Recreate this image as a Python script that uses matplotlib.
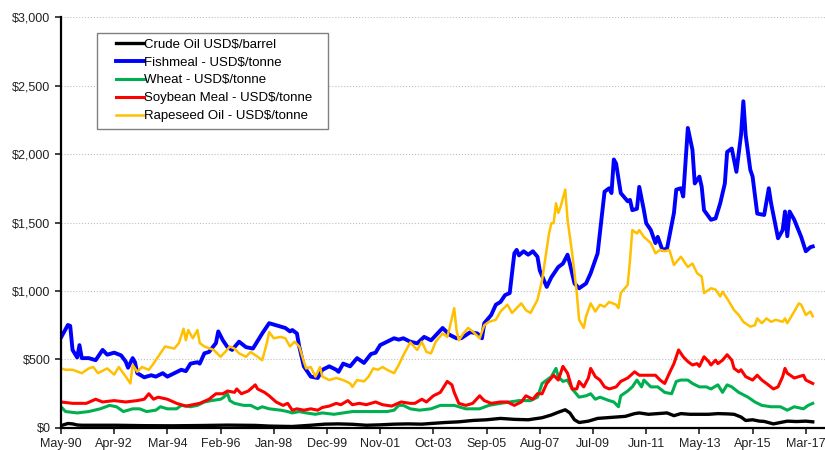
import matplotlib
matplotlib.use("Agg")
import matplotlib.pyplot as plt
from matplotlib.patches import Rectangle
from matplotlib.ticker import FuncFormatter, MultipleLocator

plt.rcParams['font.family'] = ['Liberation Sans', 'DejaVu Sans']

# months counted from May-1990
crude_m = [0, 3, 5, 7, 9, 12, 24, 36, 48, 60, 72, 84, 90, 96, 100, 108, 114, 120, 126, 132,
           138, 144, 150, 156, 160, 166, 172, 178, 184, 190, 196, 202, 208, 212, 215, 218, 220,
           222, 224, 228, 232, 236, 240, 244, 248, 250, 254, 258, 262, 265, 268, 272, 276, 280,
           284, 288, 291, 294, 296, 299, 302, 304, 308, 311, 314, 318, 322, 325]
crude_v = [17, 33, 30, 22, 20, 20, 20, 17, 16, 18, 21, 19, 14, 12, 11, 20, 28, 30, 27, 20,
           23, 28, 30, 28, 33, 40, 45, 55, 60, 70, 63, 60, 75, 95, 115, 133, 110,
           60, 40, 50, 70, 75, 80, 85, 105, 110, 100, 105, 110, 90, 105, 100, 100, 100,
           105, 103, 100, 80, 55, 60, 50, 48, 30, 40, 50, 47, 50, 45]

fish_m = [0, 3, 4, 5, 7, 8, 9, 12, 15, 18, 20, 23, 26, 28, 29, 31, 32, 33, 36, 39, 41, 44, 46,
          49, 52, 54, 56, 59, 60, 62, 64, 67, 68, 70, 72, 74, 77, 80, 83, 87, 90, 93, 97, 99,
          100, 102, 103, 105, 108, 111, 113, 116, 119, 120, 122, 125, 128, 131, 134, 136, 138,
          141, 144, 146, 148, 151, 154, 157, 160, 165, 168, 171, 173, 177, 180, 182, 183, 186,
          188, 190, 192, 194, 196, 197, 198, 200, 202, 204, 206, 207, 210, 212, 215, 217, 219,
          220, 222, 224, 227, 229, 232, 235, 237, 238, 239, 240, 242, 245, 246, 247, 249, 250,
          252, 253, 255, 257, 258, 260, 262, 265, 266, 268, 269, 271, 273, 274, 276, 277, 278,
          281, 283, 285, 287, 288, 290, 292, 294, 295, 296, 298, 299, 301, 304, 306, 307, 310,
          312, 313, 314, 315, 317, 320, 322, 324, 325]
fish_v = [660, 752, 745, 570, 515, 605, 510, 510, 495, 570, 535, 550, 530, 485, 440, 510, 480,
          400, 370, 385, 375, 400, 375, 400, 425, 415, 470, 480, 470, 545, 555, 620, 705, 640,
          590, 570, 630, 590, 580, 690, 765, 750, 730, 705, 715, 690, 595, 450, 375, 365, 425,
          450, 425, 410, 470, 450, 510, 475, 540, 550, 605, 630, 655, 645, 655, 630, 618, 665,
          640, 730, 680, 655, 655, 700, 690, 655, 765, 825, 900, 920, 970, 985, 1275, 1300,
          1260, 1290, 1265, 1290, 1250, 1150, 1030, 1100, 1175, 1200, 1265, 1200, 1055, 1020,
          1055, 1130, 1275, 1725, 1750, 1715, 1960, 1930, 1715, 1655, 1665, 1590, 1600, 1760,
          1590, 1495, 1445, 1350, 1395, 1300, 1310, 1570, 1740, 1750, 1690, 2190, 2030, 1785,
          1835, 1760, 1590, 1520, 1530, 1640, 1785, 2015, 2040, 1870, 2140, 2385, 2140, 1885,
          1835, 1565, 1555, 1750, 1640, 1385, 1445, 1580, 1400, 1580, 1520, 1395, 1290, 1320,
          1325]

wheat_m = [0, 2, 7, 12, 17, 21, 24, 27, 31, 34, 37, 41, 43, 46, 50, 52, 56, 59, 62, 65, 69, 70,
           72, 73, 75, 79, 82, 85, 87, 90, 95, 98, 100, 103, 106, 110, 113, 118, 122, 126, 132,
           137, 141, 144, 146, 148, 151, 155, 160, 164, 170, 175, 181, 185, 190, 194, 198, 203,
           206, 208, 210, 212, 214, 215, 217, 219, 221, 224, 227, 229, 231, 233, 237, 239, 241,
           242, 245, 247, 249, 251, 252, 255, 258, 261, 264, 266, 268, 271, 273, 276, 279, 281,
           284, 286, 288, 290, 293, 297, 300, 303, 307, 311, 314, 317, 321, 323, 325]
wheat_v = [155, 120, 110, 120, 140, 165, 155, 120, 140, 140, 120, 130, 155, 140, 140, 165, 155,
           165, 190, 200, 210, 220, 250, 200, 180, 165, 165, 140, 155, 140, 130, 120, 110, 120,
           110, 100, 110, 100, 110, 120, 120, 120, 120, 130, 165, 165, 140, 130, 140, 165, 165,
           140, 140, 165, 180, 190, 200, 200, 225, 325, 350, 375, 435, 375, 340, 350, 285, 225,
           235, 250, 210, 225, 200, 190, 155, 235, 270, 300, 350, 300, 350, 300, 300, 260, 250,
           340, 350, 350, 325, 300, 300, 285, 315, 260, 315, 300, 260, 225, 190, 165, 155, 155,
           130, 155, 140, 165, 180]

soy_m = [0, 5, 11, 15, 18, 23, 28, 33, 36, 38, 40, 42, 46, 50, 54, 60, 64, 67, 70, 72, 75, 76,
         78, 81, 84, 85, 88, 90, 93, 96, 98, 100, 102, 105, 108, 111, 113, 116, 119, 121, 124,
         126, 129, 132, 136, 139, 143, 147, 151, 153, 156, 158, 161, 164, 167, 169, 170, 172,
         175, 178, 181, 183, 186, 190, 193, 196, 199, 201, 204, 206, 208, 210, 213, 215, 217,
         219, 221, 223, 224, 226, 228, 229, 231, 233, 235, 237, 240, 242, 245, 248, 250, 254,
         257, 259, 261, 263, 265, 267, 269, 271, 273, 275, 276, 278, 280, 281, 283, 284, 286,
         288, 290, 291, 293, 294, 296, 299, 301, 303, 305, 308, 310, 312, 313, 314, 317, 319,
         321, 322, 325]
soy_v = [190, 180, 180, 210, 190, 200, 190, 200, 210, 250, 210, 225, 210, 180, 160, 180, 210,
         250, 250, 270, 260, 285, 250, 270, 315, 285, 260, 235, 190, 165, 180, 130, 140, 130,
         140, 130, 150, 160, 180, 170, 200, 170, 180, 170, 190, 170, 160, 190, 180, 180, 210,
         190, 235, 260, 340, 315, 260, 180, 165, 180, 235, 200, 180, 190, 190, 165, 190, 235,
         210, 250, 250, 325, 385, 350, 450, 400, 285, 285, 340, 300, 365, 435, 375, 350, 300,
         285, 300, 340, 365, 410, 385, 385, 385, 350, 325, 400, 470, 570, 520, 485, 460, 470,
         450, 520, 485, 460, 495, 470, 495, 535, 495, 435, 410, 425, 375, 350, 385, 350, 325,
         285, 300, 375, 435, 400, 365, 375, 385, 350, 325]

rape_m = [0, 2, 5, 9, 12, 14, 16, 20, 23, 25, 28, 30, 31, 33, 35, 38, 40, 43, 45, 49, 51, 53, 54,
          55, 57, 59, 60, 62, 66, 69, 71, 73, 75, 77, 80, 82, 85, 87, 89, 90, 92, 95, 97, 99,
          101, 103, 105, 106, 108, 110, 112, 113, 116, 119, 122, 125, 126, 128, 131, 133, 135,
          137, 139, 141, 144, 146, 148, 151, 154, 156, 158, 160, 162, 165, 167, 168, 170, 171,
          172, 174, 176, 178, 181, 183, 185, 188, 190, 193, 195, 197, 199, 201, 203, 206, 208,
          211, 212, 213, 214, 215, 216, 218, 219, 221, 223, 224, 226, 227, 229, 231, 233, 235,
          237, 240, 241, 242, 245, 246, 247, 249, 250, 252, 255, 257, 259, 261, 263, 265, 268,
          270, 271, 273, 275, 277, 278, 281, 283, 285, 286, 288, 291, 293, 295, 298, 300, 301,
          303, 305, 307, 309, 312, 313, 314, 317, 319, 320, 322, 324, 325]
rape_v = [435, 425, 425, 400, 435, 445, 400, 435, 390, 445, 375, 325, 460, 410, 445, 425, 470,
          545, 595, 580, 620, 725, 640, 715, 655, 715, 620, 595, 570, 520, 555, 595, 580, 545,
          520, 555, 520, 495, 620, 700, 655, 665, 655, 595, 630, 595, 485, 435, 445, 375, 445,
          375, 350, 365, 350, 325, 300, 350, 340, 375, 435, 425, 445, 425, 400, 460, 530, 625,
          570, 630, 555, 545, 630, 690, 665, 730, 875, 715, 640, 690, 730, 705, 655, 750, 775,
          790, 850, 900, 840, 875, 910, 860, 840, 935, 1080, 1420, 1495, 1495, 1640, 1570, 1615,
          1740, 1520, 1275, 985, 790, 730, 815, 910, 850, 900, 885, 920, 900, 875, 985, 1045,
          1225, 1445, 1420, 1445, 1395, 1350, 1275, 1300, 1290, 1300, 1190, 1250, 1200, 1175,
          1200, 1130, 1105, 985, 1020, 1010, 960, 995, 945, 860, 825, 775, 740, 750, 800, 765,
          800, 775, 790, 775, 800, 765, 850, 910, 900, 825, 850, 815]

tick_labels = ["May-90", "Apr-92", "Mar-94", "Feb-96", "Jan-98", "Dec-99", "Nov-01", "Oct-03",
               "Sep-05", "Aug-07", "Jul-09", "Jun-11", "May-13", "Apr-15", "Mar-17"]

fig = plt.figure(figsize=(8.25, 4.5), dpi=100)
ax = fig.add_axes([0.0739, 0.0489, 0.9261, 0.9133])

ax.plot(crude_m, crude_v, color='black', lw=2.4, label='Crude Oil USD$/barrel')
ax.plot(fish_m, fish_v, color='#0000FF', lw=2.8, label='Fishmeal - USD$/tonne')
ax.plot(wheat_m, wheat_v, color='#00B050', lw=2.2, label='Wheat - USD$/tonne')
ax.plot(soy_m, soy_v, color='#FF0000', lw=2.2, label='Soybean Meal - USD$/tonne')
ax.plot(rape_m, rape_v, color='#FFC000', lw=1.8, label='Rapeseed Oil - USD$/tonne')

ax.set_xlim(0, 330.3)
ax.set_ylim(0, 3000)
ax.set_xticks([23 * i for i in range(len(tick_labels))])
ax.set_xticklabels(tick_labels)
ax.yaxis.set_major_locator(MultipleLocator(500))
ax.yaxis.set_major_formatter(FuncFormatter(lambda v, p: "${:,.0f}".format(v)))
ax.tick_params(labelsize=9, colors='#222222', length=4, width=1.2, direction='out')
ax.tick_params(axis='x', pad=3)

ax.grid(axis='y', linestyle=':', color='#c0c0c0', lw=0.8)
ax.set_axisbelow(True)
for s in ['top', 'right']:
    ax.spines[s].set_visible(False)
for s in ['left', 'bottom']:
    ax.spines[s].set_linewidth(1.6)
    ax.spines[s].set_color('black')

# legend box drawn by hand so the padding matches the original
ax.add_patch(Rectangle((0.047, 0.7275), 0.3025, 0.2335, transform=ax.transAxes,
                       facecolor='white', edgecolor='#808080', lw=1.0, zorder=5))
leg = ax.legend(loc='upper left', bbox_to_anchor=(0.072, 0.948), borderaxespad=0,
                fontsize=9.5, frameon=False, handlelength=2.1,
                handletextpad=0.0, labelspacing=0.43, borderpad=0)
leg.set_zorder(6)

fig.savefig('out.png', dpi=100)
